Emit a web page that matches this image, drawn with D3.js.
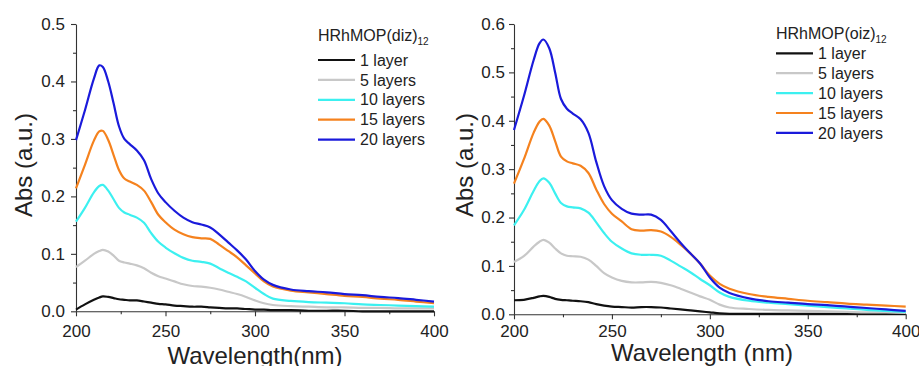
<!DOCTYPE html>
<html><head><meta charset="utf-8">
<script src="https://cdn.jsdelivr.net/npm/d3@7"></script>
<style>body{margin:0;background:#fff;}svg{display:block;font-family:"Liberation Sans",Arial,sans-serif;}</style>
</head><body><svg id="c" width="919" height="366"></svg>
<script>
const wavelengths = [200,205,210,213,215,218,221,224,227,230,234,238,242,246,250,255,260,265,270,275,280,285,290,295,300,305,310,320,330,340,350,360,370,380,390,400];
const seriesNames = ["1 layer","5 layers","10 layers","15 layers","20 layers"];
const seriesColors = ["#111111","#c8c8c8","#3cf0f0","#f5821e","#1a1adb"];

const dizL1  = [0.003,0.012,0.020,0.024,0.026,0.025,0.023,0.021,0.020,0.019,0.019,0.017,0.015,0.013,0.012,0.010,0.009,0.008,0.008,0.007,0.006,0.005,0.005,0.004,0.003,0.003,0.002,0.002,0.001,0.001,0.001,0.000,0.000,0.000,0.000,0.000];
const dizL5  = [0.077,0.088,0.100,0.105,0.107,0.104,0.097,0.088,0.085,0.083,0.080,0.075,0.067,0.061,0.057,0.052,0.047,0.044,0.043,0.041,0.038,0.034,0.030,0.025,0.019,0.014,0.011,0.009,0.008,0.007,0.007,0.006,0.006,0.005,0.005,0.005];
const dizL10 = [0.156,0.180,0.207,0.218,0.220,0.210,0.195,0.180,0.172,0.168,0.163,0.154,0.136,0.121,0.111,0.101,0.093,0.088,0.086,0.083,0.075,0.067,0.060,0.052,0.041,0.030,0.022,0.018,0.016,0.015,0.014,0.012,0.011,0.010,0.009,0.008];
const dizL15 = [0.214,0.255,0.297,0.313,0.314,0.298,0.272,0.246,0.231,0.226,0.220,0.210,0.190,0.168,0.155,0.142,0.134,0.129,0.127,0.126,0.116,0.105,0.094,0.080,0.066,0.052,0.043,0.036,0.033,0.030,0.027,0.025,0.022,0.020,0.017,0.014];
const dizL20 = [0.298,0.350,0.405,0.428,0.425,0.400,0.362,0.322,0.300,0.291,0.280,0.263,0.230,0.205,0.190,0.175,0.163,0.155,0.151,0.146,0.134,0.120,0.106,0.090,0.070,0.055,0.046,0.038,0.035,0.033,0.030,0.028,0.025,0.023,0.020,0.017];

const oizL1  = [0.029,0.030,0.034,0.037,0.038,0.036,0.032,0.030,0.029,0.028,0.027,0.025,0.021,0.018,0.016,0.015,0.014,0.015,0.015,0.014,0.012,0.010,0.008,0.006,0.004,0.002,0.001,0.001,0.001,0.001,0.001,0.001,0.001,0.001,0.001,0.001];
const oizL5  = [0.108,0.120,0.140,0.150,0.154,0.148,0.136,0.126,0.121,0.120,0.119,0.113,0.100,0.085,0.076,0.069,0.066,0.066,0.067,0.065,0.060,0.053,0.045,0.037,0.030,0.020,0.014,0.011,0.009,0.008,0.007,0.006,0.005,0.004,0.004,0.003];
const oizL10 = [0.184,0.215,0.255,0.275,0.281,0.272,0.250,0.230,0.223,0.221,0.219,0.210,0.190,0.168,0.150,0.136,0.126,0.123,0.123,0.121,0.111,0.099,0.087,0.073,0.060,0.045,0.036,0.028,0.024,0.021,0.018,0.015,0.012,0.009,0.007,0.005];
const oizL15 = [0.270,0.320,0.375,0.398,0.404,0.390,0.358,0.326,0.316,0.312,0.307,0.292,0.258,0.228,0.208,0.192,0.176,0.173,0.174,0.171,0.160,0.144,0.126,0.105,0.080,0.063,0.053,0.042,0.036,0.032,0.028,0.025,0.022,0.020,0.018,0.016];
const oizL20 = [0.381,0.450,0.525,0.560,0.568,0.550,0.500,0.445,0.425,0.415,0.403,0.375,0.315,0.265,0.236,0.218,0.208,0.206,0.206,0.195,0.172,0.148,0.126,0.105,0.076,0.055,0.044,0.033,0.027,0.024,0.021,0.019,0.016,0.013,0.010,0.007];

const xTicks = [200,250,300,350,400];
const xMinor = [225,275,325,375];
const yTicksL = [0.0,0.1,0.2,0.3,0.4,0.5];
const yMinorL = [0.05,0.15,0.25,0.35,0.45];
const yTicksR = [0.0,0.1,0.2,0.3,0.4,0.5,0.6];
const yMinorR = [0.05,0.15,0.25,0.35,0.45,0.55];

const panels = [
  {series:[dizL1,dizL5,dizL10,dizL15,dizL20], yMax:0.5, yT:yTicksL, yM:yMinorL,
   xr:[76,434], yr:[311.3,24], title:"HRhMOP(diz)", xlab:"Wavelength(nm)",
   xlabPos:[255,364], ylabPos:[32,165], legX:318, legY0:60, titleY:41, ytp:6, xty:14},
  {series:[oizL1,oizL5,oizL10,oizL15,oizL20], yMax:0.6, yT:yTicksR, yM:yMinorR,
   xr:[514,905.7], yr:[314.3,24], title:"HRhMOP(oiz)", xlab:"Wavelength (nm)",
   xlabPos:[702,361], ylabPos:[473,165], legX:776, legY0:53.3, titleY:38.5, ytp:4, xty:11}
];

const svg = d3.select("#c");
panels.forEach(p => {
  const x = d3.scaleLinear().domain([200,400]).range(p.xr);
  const y = d3.scaleLinear().domain([0,p.yMax]).range(p.yr);
  const g = svg.append("g");
  // axes
  const ax = g.append("g").attr("transform",`translate(0,${p.yr[0]})`)
    .call(d3.axisBottom(x).tickValues(xTicks).tickSize(5).tickSizeOuter(0).tickPadding(p.xty-5).tickFormat(d3.format("d")));
  ax.selectAll("text").attr("font-size",17).attr("fill","#222").attr("font-family","Liberation Sans, Arial, sans-serif");
  g.append("g").attr("transform",`translate(0,${p.yr[0]})`)
    .call(d3.axisBottom(x).tickValues(xMinor).tickSize(3).tickSizeOuter(0).tickFormat(""))
    .select(".domain").remove();
  const ay = g.append("g").attr("transform",`translate(${p.xr[0]},0)`)
    .call(d3.axisLeft(y).tickValues(p.yT).tickSize(5).tickSizeOuter(0).tickPadding(p.ytp).tickFormat(d3.format(".1f")));
  ay.selectAll("text").attr("font-size",17).attr("fill","#222").attr("font-family","Liberation Sans, Arial, sans-serif");
  g.append("g").attr("transform",`translate(${p.xr[0]},0)`)
    .call(d3.axisLeft(y).tickValues(p.yM).tickSize(3).tickSizeOuter(0).tickFormat(""))
    .select(".domain").remove();
  g.selectAll(".domain, .tick line").attr("stroke","#333").attr("stroke-width",1.1);

  // lines
  const line = d3.line().x((d,i)=>x(wavelengths[i])).y(d=>y(d)).curve(d3.curveCatmullRom.alpha(0.5));
  p.series.forEach((s,i) => {
    g.append("path").attr("d",line(s)).attr("fill","none")
      .attr("stroke",seriesColors[i]).attr("stroke-width",2.2).attr("stroke-linejoin","round");
  });

  // legend
  const t = g.append("text").attr("x",p.legX).attr("y",p.titleY).attr("font-size",16).attr("fill","#222");
  t.append("tspan").text(p.title);
  t.append("tspan").attr("font-size",10).attr("dy",4).text("12");
  seriesNames.forEach((n,i) => {
    const yy = p.legY0 + i*19.9;
    g.append("line").attr("x1",p.legX).attr("x2",p.legX+37).attr("y1",yy).attr("y2",yy)
      .attr("stroke",seriesColors[i]).attr("stroke-width",2.2);
    g.append("text").attr("x",p.legX+42).attr("y",yy+5.6).attr("font-size",16).attr("fill","#222").text(n);
  });

  // axis labels
  g.append("text").attr("x",p.xlabPos[0]).attr("y",p.xlabPos[1]).attr("text-anchor","middle")
    .attr("font-size",24).attr("fill","#222").text(p.xlab);
  g.append("text").attr("transform",`translate(${p.ylabPos[0]},${p.ylabPos[1]}) rotate(-90)`)
    .attr("text-anchor","middle").attr("font-size",24).attr("fill","#222").text("Abs (a.u.)");
});
</script></body></html>
